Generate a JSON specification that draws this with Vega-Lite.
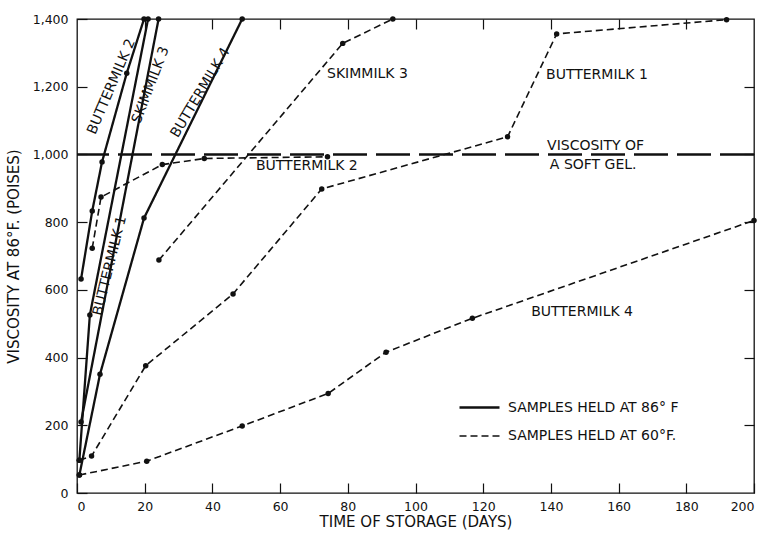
{
  "$schema": "https://vega.github.io/schema/vega-lite/v6.json",
  "width": 677,
  "height": 474,
  "autosize": "none",
  "padding": {"left": 77, "top": 19, "right": 17, "bottom": 40},
  "background": "white",
  "config": {
    "font": "DejaVu Sans",
    "view": {"stroke": "#111", "strokeWidth": 1.3},
    "axis": {
      "grid": false,
      "domain": false,
      "tickColor": "#111",
      "tickWidth": 1.2,
      "tickSize": 10,
      "offset": -10,
      "labelColor": "#111",
      "labelFontSize": 12.5,
      "titleColor": "#111",
      "titleFontSize": 15,
      "titleFontWeight": "normal"
    },
    "legend": {
      "labelFontSize": 14,
      "labelColor": "#111",
      "labelLimit": 400
    }
  },
  "datasets": {
    "obs": [
      {"curve": "BM1-86", "held": "SAMPLES HELD AT 86° F", "day": 0.7, "visc": 97},
      {"curve": "BM1-86", "held": "SAMPLES HELD AT 86° F", "day": 3.8, "visc": 526},
      {"curve": "BM1-86", "held": "SAMPLES HELD AT 86° F", "day": 21, "visc": 1400},
      {"curve": "SK3-86", "held": "SAMPLES HELD AT 86° F", "day": 1.2, "visc": 210},
      {"curve": "SK3-86", "held": "SAMPLES HELD AT 86° F", "day": 24.1, "visc": 1400},
      {"curve": "BM2-86", "held": "SAMPLES HELD AT 86° F", "day": 1.2, "visc": 632},
      {"curve": "BM2-86", "held": "SAMPLES HELD AT 86° F", "day": 4.5, "visc": 833},
      {"curve": "BM2-86", "held": "SAMPLES HELD AT 86° F", "day": 7.4, "visc": 978},
      {"curve": "BM2-86", "held": "SAMPLES HELD AT 86° F", "day": 14.7, "visc": 1240},
      {"curve": "BM2-86", "held": "SAMPLES HELD AT 86° F", "day": 19.8, "visc": 1400},
      {"curve": "BM4-86", "held": "SAMPLES HELD AT 86° F", "day": 0.7, "visc": 53},
      {"curve": "BM4-86", "held": "SAMPLES HELD AT 86° F", "day": 6.8, "visc": 351},
      {"curve": "BM4-86", "held": "SAMPLES HELD AT 86° F", "day": 19.8, "visc": 812},
      {"curve": "BM4-86", "held": "SAMPLES HELD AT 86° F", "day": 48.8, "visc": 1400},
      {"curve": "BM2-60", "held": "SAMPLES HELD AT 60°F.", "day": 4.5, "visc": 723},
      {"curve": "BM2-60", "held": "SAMPLES HELD AT 60°F.", "day": 7.1, "visc": 874},
      {"curve": "BM2-60", "held": "SAMPLES HELD AT 60°F.", "day": 25.2, "visc": 970},
      {"curve": "BM2-60", "held": "SAMPLES HELD AT 60°F.", "day": 37.6, "visc": 988},
      {"curve": "BM2-60", "held": "SAMPLES HELD AT 60°F.", "day": 74, "visc": 993},
      {"curve": "SK3-60", "held": "SAMPLES HELD AT 60°F.", "day": 24.2, "visc": 688},
      {"curve": "SK3-60", "held": "SAMPLES HELD AT 60°F.", "day": 78.5, "visc": 1328},
      {"curve": "SK3-60", "held": "SAMPLES HELD AT 60°F.", "day": 93.3, "visc": 1400},
      {"curve": "BM1-60", "held": "SAMPLES HELD AT 60°F.", "day": 0.7, "visc": 97},
      {"curve": "BM1-60", "held": "SAMPLES HELD AT 60°F.", "day": 4.3, "visc": 109},
      {"curve": "BM1-60", "held": "SAMPLES HELD AT 60°F.", "day": 20.3, "visc": 376},
      {"curve": "BM1-60", "held": "SAMPLES HELD AT 60°F.", "day": 46.1, "visc": 588},
      {"curve": "BM1-60", "held": "SAMPLES HELD AT 60°F.", "day": 72.3, "visc": 898},
      {"curve": "BM1-60", "held": "SAMPLES HELD AT 60°F.", "day": 127.2, "visc": 1052},
      {"curve": "BM1-60", "held": "SAMPLES HELD AT 60°F.", "day": 141.7, "visc": 1356},
      {"curve": "BM1-60", "held": "SAMPLES HELD AT 60°F.", "day": 191.9, "visc": 1398},
      {"curve": "BM4-60", "held": "SAMPLES HELD AT 60°F.", "day": 0.7, "visc": 53},
      {"curve": "BM4-60", "held": "SAMPLES HELD AT 60°F.", "day": 20.6, "visc": 94},
      {"curve": "BM4-60", "held": "SAMPLES HELD AT 60°F.", "day": 48.8, "visc": 198},
      {"curve": "BM4-60", "held": "SAMPLES HELD AT 60°F.", "day": 74.2, "visc": 294},
      {"curve": "BM4-60", "held": "SAMPLES HELD AT 60°F.", "day": 91.3, "visc": 416},
      {"curve": "BM4-60", "held": "SAMPLES HELD AT 60°F.", "day": 116.8, "visc": 516},
      {"curve": "BM4-60", "held": "SAMPLES HELD AT 60°F.", "day": 200, "visc": 805}
    ],
    "gel": [{"visc": 1000}],
    "notes": [
      {"id": "r-bm2", "note": "BUTTERMILK 2", "day": 10.2, "visc": 1200},
      {"id": "r-sk3", "note": "SKIMMILK 3", "day": 21.8, "visc": 1205},
      {"id": "r-bm4", "note": "BUTTERMILK 4", "day": 36.5, "visc": 1182},
      {"id": "r-bm1", "note": "BUTTERMILK 1", "day": 9.7, "visc": 671},
      {"id": "h", "note": "SKIMMILK 3", "day": 85.8, "visc": 1237},
      {"id": "h", "note": "BUTTERMILK 2", "day": 67.9, "visc": 967},
      {"id": "h", "note": "BUTTERMILK 1", "day": 153.6, "visc": 1234},
      {"id": "h", "note": "VISCOSITY OF", "day": 153.2, "visc": 1026},
      {"id": "h", "note": "A SOFT GEL.", "day": 152.5, "visc": 969},
      {"id": "h", "note": "BUTTERMILK 4", "day": 149.2, "visc": 535}
    ]
  },
  "layer": [
    {
      "data": {"name": "obs"},
      "mark": {"type": "line", "color": "#111", "strokeCap": "butt"},
      "encoding": {
        "x": {
          "field": "day", "type": "quantitative",
          "scale": {"domain": [0, 200], "nice": false, "zero": false},
          "axis": {
            "title": "TIME OF STORAGE (DAYS)",
            "values": [0, 20, 40, 60, 80, 100, 120, 140, 160, 180, 200],
            "labelPadding": 7,
            "titlePadding": 2
          }
        },
        "y": {
          "field": "visc", "type": "quantitative",
          "scale": {"domain": [0, 1400], "nice": false},
          "axis": {
            "title": "VISCOSITY AT 86°F. (POISES)",
            "values": [0, 200, 400, 600, 800, 1000, 1200, 1400],
            "format": ",.0f",
            "labelPadding": 9,
            "titlePadding": 11
          }
        },
        "detail": {"field": "curve"},
        "strokeDash": {
          "field": "held", "type": "nominal",
          "scale": {"domain": ["SAMPLES HELD AT 86° F", "SAMPLES HELD AT 60°F."], "range": [[1, 0], [7, 4]]},
          "legend": {
            "title": null, "orient": "none", "legendX": 381, "legendY": 367,
            "symbolType": "stroke", "symbolSize": 1600, "symbolStrokeColor": "#111",
            "labelOffset": 7, "rowPadding": -6
          }
        },
        "strokeWidth": {
          "field": "held", "type": "nominal",
          "scale": {"domain": ["SAMPLES HELD AT 86° F", "SAMPLES HELD AT 60°F."], "range": [2.3, 1.6]},
          "legend": {
            "title": null, "orient": "none", "legendX": 381, "legendY": 367,
            "symbolType": "stroke", "symbolSize": 1600, "symbolStrokeColor": "#111",
            "labelOffset": 7, "rowPadding": -6
          }
        }
      }
    },
    {
      "data": {"name": "obs"},
      "mark": {"type": "point", "filled": true, "color": "#111", "opacity": 1, "size": 30},
      "encoding": {
        "x": {
          "field": "day", "type": "quantitative",
          "axis": {"orient": "top", "labels": false, "title": null,
                   "values": [20, 40, 60, 80, 100, 120, 140, 160, 180]}
        },
        "y": {
          "field": "visc", "type": "quantitative",
          "axis": {"orient": "right", "labels": false, "title": null,
                   "values": [200, 400, 600, 800, 1000, 1200]}
        }
      }
    },
    {
      "data": {"name": "gel"},
      "mark": {"type": "rule", "color": "#111", "strokeWidth": 2.5, "strokeDash": [34, 9]},
      "encoding": {
        "y": {"field": "visc", "type": "quantitative", "axis": null}
      }
    },
    {
      "data": {"name": "notes"},
      "transform": [{"filter": "datum.id === 'h'"}],
      "mark": {"type": "text", "fontSize": 14, "color": "#111", "align": "center", "baseline": "middle"},
      "encoding": {
        "x": {"field": "day", "type": "quantitative", "axis": null},
        "y": {"field": "visc", "type": "quantitative", "axis": null},
        "text": {"field": "note"}
      }
    },
    {
      "data": {"name": "notes"},
      "transform": [{"filter": "datum.id === 'r-bm2'"}],
      "mark": {"type": "text", "fontSize": 14, "color": "#111", "align": "center", "baseline": "middle", "angle": -67},
      "encoding": {
        "x": {"field": "day", "type": "quantitative", "axis": null},
        "y": {"field": "visc", "type": "quantitative", "axis": null},
        "text": {"field": "note"}
      }
    },
    {
      "data": {"name": "notes"},
      "transform": [{"filter": "datum.id === 'r-sk3'"}],
      "mark": {"type": "text", "fontSize": 14, "color": "#111", "align": "center", "baseline": "middle", "angle": -69},
      "encoding": {
        "x": {"field": "day", "type": "quantitative", "axis": null},
        "y": {"field": "visc", "type": "quantitative", "axis": null},
        "text": {"field": "note"}
      }
    },
    {
      "data": {"name": "notes"},
      "transform": [{"filter": "datum.id === 'r-bm4'"}],
      "mark": {"type": "text", "fontSize": 14, "color": "#111", "align": "center", "baseline": "middle", "angle": -59},
      "encoding": {
        "x": {"field": "day", "type": "quantitative", "axis": null},
        "y": {"field": "visc", "type": "quantitative", "axis": null},
        "text": {"field": "note"}
      }
    },
    {
      "data": {"name": "notes"},
      "transform": [{"filter": "datum.id === 'r-bm1'"}],
      "mark": {"type": "text", "fontSize": 14, "color": "#111", "align": "center", "baseline": "middle", "angle": -76},
      "encoding": {
        "x": {"field": "day", "type": "quantitative", "axis": null},
        "y": {"field": "visc", "type": "quantitative", "axis": null},
        "text": {"field": "note"}
      }
    }
  ],
  "resolve": {"axis": {"x": "independent", "y": "independent"}}
}
